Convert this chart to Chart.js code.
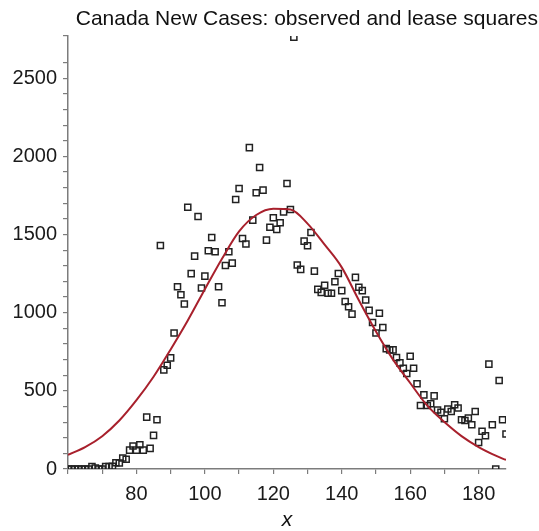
<!DOCTYPE html>
<html>
<head>
<meta charset="utf-8">
<script src="https://cdn.jsdelivr.net/npm/chart.js@4.4.0/dist/chart.umd.min.js"></script>
<style>
  body { margin: 0; background: #fff; }
  canvas { display: block; }
</style>
</head>
<body>
<canvas id="casesChart" width="539" height="531"></canvas>
<script>
// Daily new cases, one value per day starting at day 60
var firstDay = 60;
var newCases = [
    0, 0, 0, 0, 0, 0, 0, 15, 6, 0,
    0, 15, 15, 18, 40, 38, 70, 62, 121, 147,
    121, 155, 121, 332, 132, 215, 315, 1430, 634, 664,
    711, 870, 1166, 1115, 1056, 1675, 1250, 1362, 1615, 1158,
    1234, 1396, 1481, 1390, 1166, 1064, 1302, 1390, 1317, 1724,
    1794, 1475, 1439, 2056, 1592, 1767, 1929, 1784, 1464, 1547,
    1607, 1533, 1575, 1645, 1826, 1660, 2763, 1305, 1277, 1458,
    1428, 1513, 1266, 1149, 1130, 1175, 1124, 1124, 1198, 1251,
    1141, 1072, 1038, 991, 1226, 1163, 1141, 1081, 1015, 937,
    870, 996, 905, 770, 762, 762, 713, 679, 645, 611,
    721, 645, 545, 406, 474, 406, 417, 468, 377, 362,
    322, 384, 368, 411, 390, 315, 310, 326, 283, 368,
    170, 242, 213, 671, 283, 0, 566, 315, 224
];

// Least squares curve, sampled along the day axis
var fitDays = [60, 65, 70, 75, 80, 85, 90, 95, 100, 105, 110, 115, 120, 125,
               130, 135, 140, 145, 150, 155, 160, 165, 170, 175, 180, 185, 188];
var fitValues = [90, 140, 210, 310, 440, 590, 765, 950, 1150, 1345, 1520, 1625, 1665, 1660,
                 1570, 1435, 1290, 1080, 880, 700, 550, 405, 300, 210, 140, 85, 58];

var yLabelStep = 500;
var xLabels = [80, 100, 120, 140, 160, 180];
var chartTitle = 'Canada New Cases: observed and lease squares';

var observed = newCases.map(function (v, i) {
    return { x: firstDay + i, y: v };
});
var fitted = fitDays.map(function (d, i) {
    return { x: d, y: fitValues[i] };
});

var axisGrey = '#7c7c7c';
var labelFont = { family: '"Liberation Sans", Arial, sans-serif', size: 20 };

// Title sits flush with the right edge, so draw it by hand
var titlePlugin = {
    id: 'plotTitle',
    afterDraw: function (chart) {
        var ctx = chart.ctx;
        ctx.save();
        ctx.font = '21px "Liberation Sans", Arial, sans-serif';
        ctx.fillStyle = '#111';
        ctx.textAlign = 'right';
        ctx.textBaseline = 'alphabetic';
        ctx.fillText(chartTitle, 538, 25);
        ctx.restore();
    }
};

var ctx = document.getElementById('casesChart').getContext('2d');
new Chart(ctx, {
    type: 'scatter',
    data: {
        datasets: [{
            type: 'line',
            data: fitted,
            borderColor: '#a8202c',
            borderWidth: 2,
            pointRadius: 0,
            fill: false,
            cubicInterpolationMode: 'monotone',
            order: 0
        }, {
            data: observed,
            pointStyle: 'rect',
            pointRadius: 4.3,
            pointBorderWidth: 1.5,
            pointBorderColor: '#222',
            pointBackgroundColor: 'rgba(255,255,255,0)',
            order: 1
        }]
    },
    options: {
        responsive: false,
        animation: false,
        devicePixelRatio: 1,
        layout: { padding: { top: 36, right: 33, left: 0, bottom: 0 } },
        plugins: {
            legend: { display: false },
            tooltip: { enabled: false },
            title: { display: false }
        },
        scales: {
            x: {
                type: 'linear',
                min: 60,
                max: 188,
                afterFit: function (scale) { scale.height = 62; },
                grid: { drawOnChartArea: false, tickLength: 5, color: axisGrey, lineWidth: 1.2 },
                border: { color: axisGrey, width: 1.5 },
                ticks: {
                    stepSize: 10,
                    includeBounds: false,
                    autoSkip: false,
                    maxRotation: 0,
                    padding: 8,
                    color: '#1a1a1a',
                    font: labelFont,
                    callback: function (v) { return xLabels.indexOf(v) >= 0 ? String(v) : ''; }
                },
                title: {
                    display: true,
                    text: 'x',
                    color: '#111',
                    font: { family: '"Liberation Sans", Arial, sans-serif', size: 21, style: 'italic', lineHeight: 1.0 },
                    padding: { top: 0, bottom: 0 }
                }
            },
            y: {
                min: 0,
                max: 2770,
                afterFit: function (scale) { scale.width = 68; },
                grid: { drawOnChartArea: false, tickLength: 5, color: axisGrey, lineWidth: 1.2 },
                border: { color: axisGrey, width: 1.5 },
                ticks: {
                    stepSize: 100,
                    autoSkip: false,
                    padding: 6,
                    color: '#1a1a1a',
                    font: labelFont,
                    callback: function (v) { return v % yLabelStep === 0 ? String(v) : ''; }
                }
            }
        }
    },
    plugins: [titlePlugin]
});
</script>
</body>
</html>
